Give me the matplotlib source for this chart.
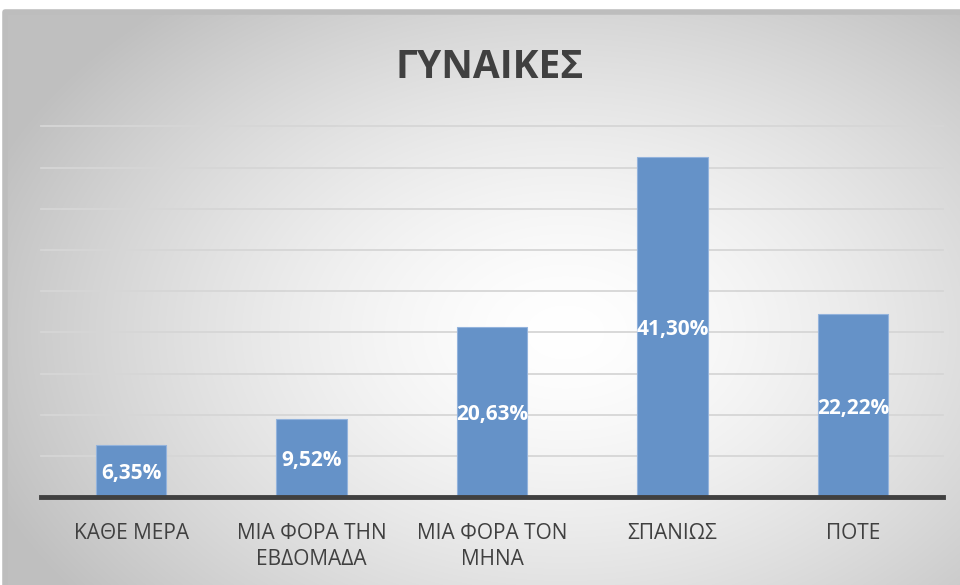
import matplotlib.pyplot as plt
import numpy as np

categories = ["ΚΑΘΕ ΜΕΡΑ", "ΜΙΑ ΦΟΡΑ ΤΗΝ\nΕΒΔΟΜΑΔΑ", "ΜΙΑ ΦΟΡΑ ΤΟΝ\nΜΗΝΑ", "ΣΠΑΝΙΩΣ", "ΠΟΤΕ"]
values = [6.35, 9.52, 20.63, 41.30, 22.22]
title = "ΓΥΝΑΙΚΕΣ"

plt.rcParams['font.family'] = ['Open Sans', 'DejaVu Sans']

W, H = 960, 585
fig = plt.figure(figsize=(W / 100, H / 100), dpi=100)

# radial grey background of the chart area
bg = fig.add_axes([5 / W, 0, (W - 5) / W, (H - 12) / H], zorder=-2)
yy, xx = np.mgrid[0:573, 0:955]
cx, cy = 560, 320
r = np.sqrt(((xx - cx) / 620.0) ** 2 + ((yy - cy) / 430.0) ** 2)
r = np.clip(r, 0, 1)
shade = 1.0 - 0.25 * r ** 1.5
bg.imshow(np.dstack([shade, shade, shade]), aspect='auto', extent=(0, 1, 0, 1),
          origin='upper')
bg.plot([0, 0, 1], [0, 1, 1], color='#bdbdbd', lw=4, transform=bg.transAxes,
        clip_on=False)
bg.set_xlim(0, 1)
bg.set_ylim(0, 1)
bg.axis('off')

# main plot
ax = fig.add_axes([41 / W, (H - 497) / H, 902 / W, (497 - 126.5) / H])
ax.patch.set_alpha(0)
x = np.arange(len(categories))
bars = ax.bar(x, values, width=0.39, color='#6592c8', edgecolor='#93b3dc',
              linewidth=0.8, zorder=3)
for b, v in zip(bars, values):
    ax.text(b.get_x() + b.get_width() / 2, v / 2, f"{v:.2f}%".replace('.', ','),
            ha='center', va='center_baseline', color='white', fontsize=15,
            fontweight='bold', zorder=4)

ax.set_xlim(-0.5, 4.5)
ax.set_ylim(0, 45)
ax.set_yticks(np.arange(5, 46, 5))
ax.yaxis.grid(True, color='#d6d6d6', lw=1.3, zorder=0)
for gl in ax.get_ygridlines():
    gl.set_clip_on(False)
ax.set_yticklabels([])
ax.tick_params(axis='y', length=0)
ax.set_xticks(x)
ax.set_xticklabels(categories, fontsize=15, color='#404040', linespacing=1.3)
ax.tick_params(axis='x', length=0, pad=19)
for s in ['top', 'left', 'right']:
    ax.spines[s].set_visible(False)
ax.spines['bottom'].set_color('#404040')
ax.spines['bottom'].set_linewidth(3.5)
ax.spines['bottom'].set_zorder(5)

fig.text(490 / W, 1 - 67 / H, title, ha='center', va='center', fontsize=28,
         fontweight='bold', color='#404040')

fig.savefig('out.png', dpi=100)
